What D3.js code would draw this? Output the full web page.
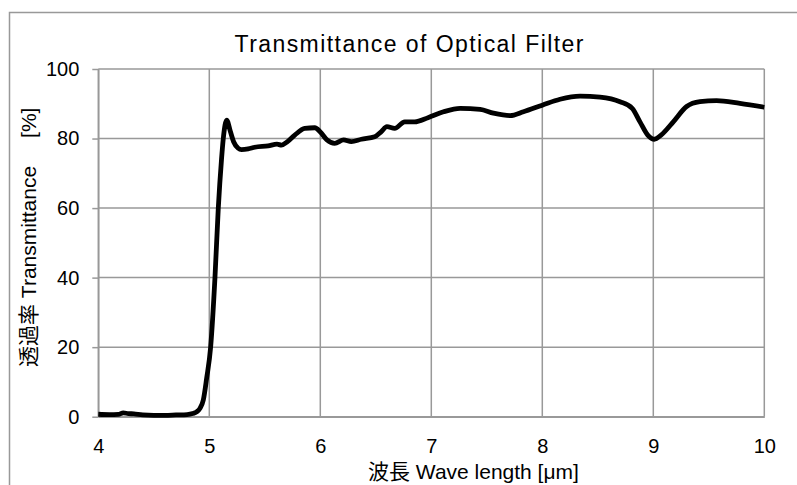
<!DOCTYPE html>
<html><head><meta charset="utf-8">
<script src="https://cdn.jsdelivr.net/npm/d3@7"></script>
<style>body{margin:0;background:#fff} svg{display:block}</style>
</head><body><svg id="c" width="797" height="485"></svg>
<script>
const wavelength = [4.0,4.1,4.18,4.225,4.27,4.32,4.4,4.5,4.6,4.7,4.8,4.85,4.886,4.916,4.946,4.976,5.012,5.051,5.081,5.11,5.126,5.157,5.19,5.22,5.26,5.29,5.35,5.41,5.53,5.61,5.65,5.7,5.77,5.86,5.95,6.0,6.06,6.13,6.21,6.28,6.37,6.49,6.55,6.6,6.67,6.76,6.85,6.97,7.11,7.26,7.44,7.56,7.71,7.83,8.0,8.16,8.34,8.52,8.70,8.81,8.88,8.95,9.01,9.07,9.18,9.30,9.42,9.57,9.78,10.0];
const transmittance = [0.7,0.6,0.65,1.1,0.9,0.8,0.5,0.4,0.4,0.5,0.6,0.9,1.4,2.4,4.8,11,20,40,60,74,80,85.3,82,79,77.2,76.8,77,77.5,77.9,78.4,78.1,79,81,82.9,83.1,81.9,79.6,78.6,79.6,79.1,79.8,80.5,82,83.4,82.9,84.8,84.8,86,87.7,88.7,88.4,87.3,86.6,87.7,89.6,91.3,92.2,91.9,90.6,88.7,84.8,81,79.8,81,84.8,89.2,90.6,90.9,90.1,89];
const xTicks = [4,5,6,7,8,9,10];
const yTicks = [0,20,40,60,80,100];
const titleText = "Transmittance of Optical Filter";
const xLabel = "波長 Wave length [μm]";
const yLabelMain = "透過率 Transmittance";
const yLabelUnit = "[%]";

const W = 797, H = 485;
const FONT = "'Liberation Sans', Arial, 'Noto Sans CJK JP', sans-serif";
const GRID = "#999";
const svg = d3.select("#c").style("font-family", FONT);
const P = {left: 98.3, top: 69, right: 764.3, bottom: 416.7};
const x = d3.scaleLinear().domain([4, 10]).range([P.left, P.right]);
const y = d3.scaleLinear().domain([0, 100]).range([P.bottom, P.top]);

svg.append("rect").attr("width", W).attr("height", H).attr("fill", "#fff");
svg.append("rect").attr("x", 9.5).attr("y", 12.5).attr("width", W).attr("height", H)
  .attr("fill", "none").attr("stroke", GRID).attr("stroke-width", 1.5);

// gridlines
const grid = svg.append("g").attr("stroke", GRID).attr("stroke-width", 1.5);
grid.selectAll(".h").data(yTicks).join("line")
  .attr("x1", P.left).attr("x2", P.right).attr("y1", d => y(d)).attr("y2", d => y(d));
grid.selectAll(".v").data(xTicks).join("line")
  .attr("y1", P.top).attr("y2", P.bottom).attr("x1", d => x(d)).attr("x2", d => x(d));

// y axis
const ya = svg.append("g").attr("transform", `translate(${P.left},0)`)
  .call(d3.axisLeft(y).tickValues(yTicks).tickFormat(d3.format("d")).tickSize(6).tickSizeOuter(0).tickPadding(13));
ya.select(".domain").attr("stroke", GRID).attr("stroke-width", 1.5);
ya.selectAll(".tick line").attr("stroke", GRID).attr("stroke-width", 1.5);
ya.selectAll("text").attr("font-size", 20).attr("font-family", FONT).attr("fill", "#000");

// x axis
const xa = svg.append("g").attr("transform", `translate(0,${P.bottom})`)
  .call(d3.axisBottom(x).tickValues(xTicks).tickFormat(d3.format("d")).tickSize(0).tickPadding(22));
xa.select(".domain").attr("stroke", GRID).attr("stroke-width", 1.5);
xa.selectAll("text").attr("font-size", 20).attr("font-family", FONT).attr("fill", "#000");

// data line
const line = d3.line().x((d, i) => x(wavelength[i])).y(d => y(d)).curve(d3.curveMonotoneX);
svg.append("path").datum(transmittance).attr("d", line)
  .attr("fill", "none").attr("stroke", "#000").attr("stroke-width", 4.8)
  .attr("stroke-linejoin", "round");

// title
svg.append("text").attr("x", 409).attr("y", 52.3).attr("text-anchor", "middle")
  .attr("font-size", 23).attr("textLength", 349).attr("lengthAdjust", "spacing")
  .attr("fill", "#000").text(titleText);

// x label
svg.append("text").attr("x", 368).attr("y", 478.5).attr("font-size", 21)
  .attr("fill", "#000").text(xLabel);

// y label
const yl = svg.append("text").attr("transform", "translate(36,367) rotate(-90)")
  .attr("font-size", 21).attr("fill", "#000");
yl.append("tspan").text(yLabelMain);
yl.append("tspan").attr("dx", 28).text(yLabelUnit);
</script></body></html>
